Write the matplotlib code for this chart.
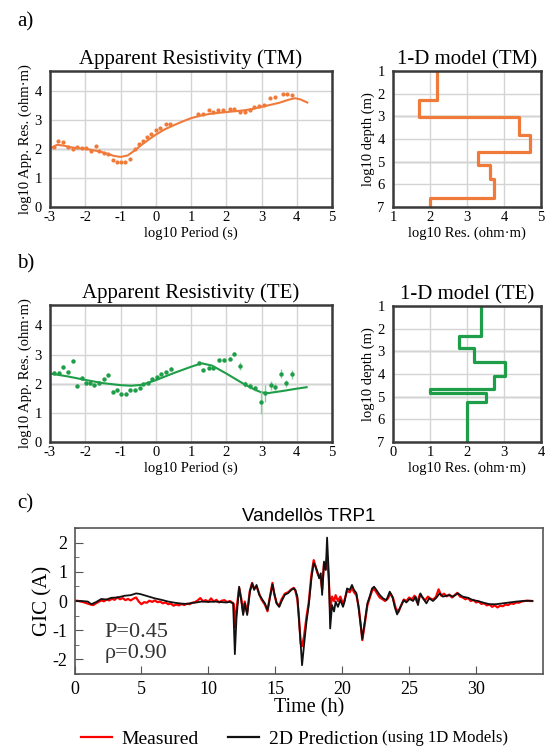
import numpy as np
import matplotlib
matplotlib.use("Agg")
import matplotlib.pyplot as plt
from matplotlib.lines import Line2D
from matplotlib.ticker import MultipleLocator

plt.rcParams['font.family'] = ['Liberation Serif', 'DejaVu Serif']
plt.rcParams['axes.unicode_minus'] = False

# ---- a) TM apparent resistivity ----
tm_period = [-2.9, -2.77, -2.62, -2.48, -2.36, -2.23, -2.08, -1.97, -1.85, -1.7, -1.6, -1.47,
             -1.35, -1.2, -1.1, -0.98, -0.86, -0.73, -0.6, -0.48, -0.37, -0.25, -0.13, 0.0,
             0.12, 0.28, 0.41, 1.2, 1.33, 1.5, 1.63, 1.77, 1.9, 2.1, 2.22, 2.38, 2.52, 2.66,
             2.8, 2.94, 3.07, 3.25, 3.38, 3.6, 3.73, 3.87]
tm_res = [2.08, 2.29, 2.25, 2.08, 2.0, 2.08, 2.05, 2.04, 1.93, 2.1, 1.94, 1.85,
          1.82, 1.62, 1.54, 1.54, 1.54, 1.66, 2.02, 2.17, 2.29, 2.42, 2.54, 2.67,
          2.74, 2.88, 2.88, 3.22, 3.22, 3.34, 3.3, 3.36, 3.34, 3.37, 3.37, 3.3, 3.28, 3.36,
          3.45, 3.5, 3.53, 3.76, 3.8, 3.9, 3.9, 3.87]
tm_fit_period = [-3, -2.8, -2.6, -2.4, -2.2, -2.0, -1.8, -1.6, -1.4, -1.2, -1.0, -0.8, -0.6,
                 -0.4, -0.2, 0, 0.25, 0.5, 0.75, 1.0, 1.25, 1.5, 1.75, 2.0, 2.25, 2.5, 2.75,
                 3.0, 3.25, 3.5, 3.75, 3.95, 4.1, 4.3]
tm_fit_res = [2.02, 2.15, 2.12, 2.06, 2.03, 2.01, 1.97, 1.92, 1.85, 1.77, 1.73, 1.78, 1.95,
              2.15, 2.33, 2.5, 2.68, 2.82, 2.95, 3.07, 3.15, 3.21, 3.25, 3.28, 3.31, 3.34, 3.39,
              3.46, 3.53, 3.6, 3.7, 3.76, 3.72, 3.61]

# 1-D TM model (layer boundaries in log10 depth, layer resistivity)
tm_depth = [1, 2.29, 3.02, 3.83, 4.56, 5.14, 5.77, 6.6, 7]
tm_rho = [2.19, 1.70, 4.41, 4.71, 3.30, 3.61, 3.72, 1.99]

# ---- b) TE apparent resistivity ----
te_period = [-2.88, -2.75, -2.63, -2.48, -2.36, -2.23, -2.1, -1.97, -1.86, -1.74, -1.61, -1.48,
             -1.36, -1.22, -1.1, -0.98, -0.84, -0.72, -0.58, -0.46, -0.35, -0.23, -0.1, 0.03,
             0.15, 0.3, 0.44, 1.22, 1.33, 1.5, 1.61, 1.8, 1.94, 2.1, 2.22, 2.38, 2.52, 2.66,
             2.81, 2.99, 3.11, 3.28, 3.39, 3.56, 3.69, 3.86]
te_res = [2.38, 2.38, 2.56, 2.41, 2.78, 1.92, 2.18, 2.01, 2.01, 1.95, 2.03, 2.15,
          2.3, 1.73, 1.78, 1.65, 1.64, 1.78, 1.78, 1.86, 1.99, 2.03, 2.15, 2.24,
          2.32, 2.41, 2.52, 2.72, 2.47, 2.55, 2.55, 2.81, 2.81, 2.86, 3.03, 2.61, 1.99, 1.93,
          1.84, 1.36, 1.67, 1.95, 1.9, 2.35, 2.01, 2.32]
te_err = [0.04, 0.04, 0.04, 0.04, 0.04, 0.04, 0.04, 0.04, 0.04, 0.04, 0.04, 0.04,
          0.04, 0.04, 0.04, 0.04, 0.04, 0.04, 0.04, 0.04, 0.04, 0.04, 0.04, 0.04,
          0.04, 0.04, 0.04, 0.05, 0.05, 0.05, 0.05, 0.05, 0.05, 0.05, 0.05, 0.15, 0.1, 0.1,
          0.08, 0.4, 0.3, 0.15, 0.12, 0.15, 0.12, 0.15]
te_fit_period = [-3, -2.5, -2, -1.5, -1, -0.7, -0.4, 0, 0.5, 1.0, 1.3, 1.6, 2.0, 2.5, 2.8,
                 3.0, 3.2, 3.6, 4.0, 4.28]
te_fit_res = [2.35, 2.25, 2.13, 2.02, 1.95, 1.93, 1.96, 2.12, 2.36, 2.58, 2.7, 2.62, 2.35,
              1.99, 1.8, 1.7, 1.68, 1.75, 1.83, 1.88]

te_depth = [1, 2.32, 2.87, 3.49, 4.07, 4.67, 4.85, 5.22, 7]
te_rho = [2.37, 1.78, 2.19, 3.04, 2.72, 0.99, 2.5, 2.0]

# ---- c) GIC at Vandellos TRP1 ----
meas_t = [0.0, 0.2, 0.4, 0.6, 0.8, 1.0, 1.2, 1.4, 1.6, 1.8, 2.0, 2.2, 2.4, 2.6, 2.8, 3.0,
          3.2, 3.4, 3.6, 3.8, 4.0, 4.2, 4.4, 4.6, 4.8, 5.0, 5.2, 5.4, 5.6, 5.8, 6.0, 6.2,
          6.4, 6.6, 6.8, 7.0, 7.2, 7.4, 7.6, 7.8, 8.0, 8.2, 8.4, 8.6, 8.8, 9.0, 9.2, 9.4,
          9.6, 9.8, 10.0, 10.2, 10.4, 10.6, 10.8, 11.0, 11.2, 11.4, 11.6, 11.8,
          11.9, 11.98, 12.1, 12.3, 12.47, 12.6, 12.72, 12.9, 13.1, 13.27, 13.42, 13.6, 13.8,
          13.97, 14.22, 14.42, 14.59, 14.79, 14.91, 15.09, 15.29, 15.46, 15.71, 15.96, 16.2,
          16.38, 16.5, 16.65, 16.75, 16.9, 17.0, 17.15, 17.33, 17.5, 17.7, 17.87, 18.0, 18.15,
          18.27, 18.4, 18.5, 18.64, 18.77, 18.87, 19.0, 19.1, 19.24, 19.39, 19.51, 19.68,
          19.86, 20.06, 20.18, 20.36, 20.56, 20.73, 20.88, 21.06, 21.23, 21.38, 21.5, 21.68,
          21.88, 22.05, 22.23, 22.38, 22.55, 22.8, 23.05,
          23.2, 23.4, 23.6, 23.8, 24.0, 24.2, 24.4, 24.6, 24.8, 25.0, 25.2, 25.4, 25.6, 25.8,
          26.0, 26.2, 26.4, 26.6, 26.8, 27.0, 27.2, 27.4, 27.6, 27.8, 28.0, 28.2, 28.4, 28.6,
          28.8, 29.0, 29.2, 29.4, 29.6, 29.8, 30.0, 30.2, 30.4, 30.6, 30.8, 31.0, 31.2, 31.4,
          31.6, 31.8, 32.0, 32.2, 32.4, 32.6, 32.8, 33.0, 33.2, 33.4, 33.6, 33.8, 34.0, 34.2]
meas_gic = [0.0, 0.01, -0.01, -0.03, -0.06, -0.09, -0.12, -0.14, -0.08, -0.03, 0.02, -0.01,
            0.05, 0.02, 0.08, 0.04, 0.13, 0.06, 0.10, 0.03, 0.07, 0.02, 0.08, 0.12, -0.02,
            -0.11, -0.04, -0.06, 0.01, -0.03, 0.02, -0.04, -0.02, -0.08, -0.05, -0.11, -0.09,
            -0.16, -0.12, -0.15, -0.10, -0.14, -0.09, -0.11, -0.06, -0.04, 0.02, 0.10, -0.01,
            0.03, -0.03, 0.09, -0.02, 0.04, -0.05, 0.01, 0.03, -0.04, 0.00, -0.06,
            -0.1, -0.9, -0.3, 0.45, 0.05, -0.4, -0.02, -0.4, 0.35, 0.62, 0.42, 0.5, 0.25,
            0.05, -0.12, -0.35, 0.12, 0.62, 0.25, -0.05, -0.18, 0.05, 0.25, 0.3, 0.4,
            0.45, 0.35, 0.05, -0.45, -1.45, -1.55, -1.2, -0.55, -0.05, 0.9, 1.4, 1.2, 0.95,
            0.85, 0.75, 0.4, 1.3, 1.1, 1.5, 0.7, -0.3, 0.15, 0.0, 0.2, 0.0,
            0.15, -0.1, 0.05, 0.35, 0.3, 0.45, 0.3, 0.2, -0.2, -0.8, -1.34, -0.8,
            -0.15, 0.1, 0.35, 0.42, 0.3, 0.12, 0.05,
            0.0, 0.08, 0.25, 0.1, -0.25, -0.38, -0.15, 0.05, 0.0, 0.12, 0.05, 0.18, -0.05, 0.22,
            0.12, 0.02, 0.15, 0.08, 0.05, 0.14, 0.4, 0.18, 0.25, 0.16, 0.22, 0.12, 0.2, 0.28,
            0.15, 0.12, 0.06, 0.1, 0.0, 0.04, -0.05, -0.02, -0.1, -0.08, -0.15, -0.12, -0.2, -0.15,
            -0.22, -0.16, -0.18, -0.12, -0.14, -0.08, -0.1, -0.05, -0.06, -0.02, 0.0, 0.01, 0.0, 0.0]

pred_t = [0, 0.5, 1.0, 1.25, 1.6, 2.0, 2.4, 2.75, 3.2, 3.75, 4.2, 4.6, 4.9, 5.2, 5.6, 6.0,
          6.5, 7.0, 7.5, 8.0, 8.4, 8.7, 9.1, 9.5, 10.0, 10.5, 11.0, 11.3, 11.6, 11.85,
          11.98, 12.1, 12.3, 12.47, 12.6, 12.72, 12.9, 13.1, 13.27, 13.42, 13.6, 13.8, 13.97,
          14.22, 14.42, 14.59, 14.79, 14.91, 15.09, 15.29, 15.46, 15.71, 15.96, 16.2, 16.38,
          16.5, 16.65, 16.75, 16.9, 17.0, 17.15, 17.33, 17.5, 17.7, 17.87, 18.0, 18.15, 18.27,
          18.4, 18.5, 18.64, 18.77, 18.87, 19.0, 19.1, 19.24, 19.39, 19.51, 19.68, 19.86,
          20.06, 20.18, 20.36, 20.56, 20.73, 20.88, 21.06, 21.23, 21.38, 21.5, 21.68, 21.88,
          22.05, 22.23, 22.38, 22.55, 22.8, 23.05, 23.3, 23.55, 23.75, 23.92, 24.1, 24.24,
          24.42, 24.59, 24.79, 25.04, 25.29, 25.49, 25.66, 25.84, 26.04, 26.29, 26.5, 26.78,
          27.03, 27.28, 27.52, 27.77, 28.0, 28.27, 28.64, 29.0, 29.4, 29.76, 30.13, 30.5,
          31.0, 31.5, 32.0, 32.5, 33.0, 33.5, 34.0, 34.2]
pred_gic = [0, 0, -0.02, -0.11, -0.04, 0.07, 0.05, 0.11, 0.12, 0.18, 0.2, 0.26, 0.24, 0.2,
            0.15, 0.09, 0.04, -0.02, -0.06, -0.09, -0.1, -0.07, -0.05, -0.02, -0.03, -0.02,
            -0.04, -0.05, -0.03, -0.08,
            -1.82, -0.6, 0.49, -0.02, -0.48, -0.08, -0.48, 0.31, 0.6, 0.38, 0.55, 0.21, 0.09,
            -0.08, -0.31, 0.09, 0.57, 0.31, -0.08, -0.2, -0.02, 0.21, 0.27, 0.38, 0.43,
            0.38, 0.15, -0.5, -1.5, -2.2, -1.5, -0.71, -0.14, 0.78, 1.3, 1.18, 1.0, 0.78,
            0.95, 0.21, 1.35, 1.06, 2.17, 0.89, -0.94, -0.14, -0.36, -0.02, -0.2, 0.03,
            -0.2, -0.02, 0.43, 0.38, 0.55, 0.38, 0.27, -0.25, -0.82, -1.3, -0.71, -0.08,
            0.15, 0.43, 0.49, 0.38, 0.21, 0.09, 0.03, 0.32, 0.15, -0.2, -0.46, -0.31,
            -0.14, 0.03, -0.05, 0.07, 0.0, 0.15, -0.14, 0.26, 0.09, -0.08, 0.09, 0.0,
            0.11, 0.26, 0.15, 0.18, 0.2, 0.15, 0.26, 0.15, 0.11, 0.03, 0.0, -0.05,
            -0.11, -0.11, -0.08, -0.05, -0.02, 0.0, 0.01, 0.0]

tm_color = '#F07A3A'
te_color = '#1E9E48'
W, H = 550, 751


def rect(left, top, right, bottom):
    return [left / W, 1 - bottom / H, (right - left) / W, (bottom - top) / H]


def style_mt(ax, dark_lines=()):
    ax.grid(True, color='#d4d4d4', linewidth=1.0)
    ax.set_axisbelow(True)
    for v in dark_lines:
        ax.axhline(v, color='#a8a8a8', linewidth=1.0, zorder=0.5)
    for s in ax.spines.values():
        s.set_color('#3a3a3a')
        s.set_linewidth(1.8)
    ax.tick_params(length=0, labelsize=10.5)
    ax.tick_params(axis='y', pad=6)
    ax.tick_params(axis='x', pad=3)


def steps(depth, rho):
    d = np.asarray(depth)
    return np.repeat(rho, 2), np.column_stack([d[:-1], d[1:]]).ravel()


fig = plt.figure(figsize=(W / 100, H / 100), dpi=100)

# a) left
ax1 = fig.add_axes(rect(50, 71, 332, 207))
ax1.plot(tm_fit_period, tm_fit_res, color=tm_color, lw=1.5)
ax1.plot(tm_period, tm_res, 'o', color=tm_color, ms=3.0, mec='none')
ax1.set_xlim(-3, 5)
ax1.set_ylim(0, 4.7)
ax1.set_xticks(range(-3, 6))
ax1.set_yticks(range(0, 5))
style_mt(ax1, dark_lines=[2])
ax1.set_title('Apparent Resistivity (TM)', fontsize=15, pad=5)
ax1.set_xlabel('log10 Period (s)', fontsize=10.5, labelpad=2)
ax1.set_ylabel('log10 App. Res. (ohm·m)', fontsize=10.5, labelpad=2)

# a) right
ax2 = fig.add_axes(rect(393, 71, 541, 207))
x, y = steps(tm_depth, tm_rho)
ax2.plot(x, y, color=tm_color, lw=2.3)
ax2.set_xlim(1, 5)
ax2.set_ylim(7, 1)
ax2.set_xticks(range(1, 6))
ax2.set_yticks(range(1, 8))
style_mt(ax2, dark_lines=[3, 5])
ax2.set_title('1-D model (TM)', fontsize=15, pad=5)
ax2.set_xlabel('log10 Res. (ohm·m)', fontsize=10.5, labelpad=2)
ax2.set_ylabel('log10 depth (m)', fontsize=10.5, labelpad=2)

# b) left
ax3 = fig.add_axes(rect(50, 305, 332, 442))
ax3.plot(te_fit_period, te_fit_res, color=te_color, lw=1.5)
ax3.errorbar(te_period, te_res, yerr=te_err, fmt='o', color=te_color, ms=3.2, mec='none',
             ecolor='#8fd0a0', elinewidth=1.0, capsize=0)
ax3.set_xlim(-3, 5)
ax3.set_ylim(0, 4.7)
ax3.set_xticks(range(-3, 6))
ax3.set_yticks(range(0, 5))
style_mt(ax3, dark_lines=[2])
ax3.set_title('Apparent Resistivity (TE)', fontsize=15, pad=5)
ax3.set_xlabel('log10 Period (s)', fontsize=10.5, labelpad=2)
ax3.set_ylabel('log10 App. Res. (ohm·m)', fontsize=10.5, labelpad=2)

# b) right
ax4 = fig.add_axes(rect(393, 306, 541, 442))
x, y = steps(te_depth, te_rho)
ax4.plot(x, y, color=te_color, lw=2.3)
ax4.set_xlim(0, 4)
ax4.set_ylim(7, 1)
ax4.set_xticks(range(0, 5))
ax4.set_yticks(range(1, 8))
style_mt(ax4, dark_lines=[3, 5])
ax4.set_title('1-D model (TE)', fontsize=15, pad=5)
ax4.set_xlabel('log10 Res. (ohm·m)', fontsize=10.5, labelpad=2)
ax4.set_ylabel('log10 depth (m)', fontsize=10.5, labelpad=2)

# c) GIC
ax5 = fig.add_axes(rect(74.5, 528, 543, 674))
ax5.plot(meas_t, meas_gic, color='#ff0000', lw=1.6)
ax5.plot(pred_t, pred_gic, color='#111111', lw=1.3)
ax5.set_xlim(0, 35)
ax5.set_ylim(-2.5, 2.5)
ax5.set_xticks(range(0, 35, 5))
ax5.set_yticks([-2, -1, 0, 1, 2])
ax5.yaxis.set_minor_locator(MultipleLocator(0.5))
ax5.tick_params(which='both', direction='in', labelsize=13, color='#555555')
ax5.tick_params(which='major', length=6, pad=5)
ax5.tick_params(which='minor', length=3)
for s in ax5.spines.values():
    s.set_color('#555555')
    s.set_linewidth(1.2)
ax5.set_title('Vandellòs TRP1', fontsize=13.5, family=['Liberation Sans', 'DejaVu Sans'], pad=5)
ax5.set_xlabel('Time (h)', fontsize=14.5, labelpad=0)
ax5.set_ylabel('GIC (A)', fontsize=15, labelpad=0)
ax5.text(0.064, 0.253, 'P=0.45', transform=ax5.transAxes, fontsize=16, color='#333333')
ax5.text(0.064, 0.11, 'ρ=0.90', transform=ax5.transAxes, fontsize=16, color='#333333')

# panel letters
fig.text(17 / W, 1 - 12 / H, 'a)', fontsize=15, va='top')
fig.text(17 / W, 1 - 254 / H, 'b)', fontsize=15, va='top')
fig.text(17 / W, 1 - 494 / H, 'c)', fontsize=15, va='top')

# legend
handles = [Line2D([], [], color='#ff0000', lw=1.6), Line2D([], [], color='#111111', lw=1.6)]
leg = fig.legend(handles, ['Measured', '2D Prediction'], loc='center left',
                 bbox_to_anchor=(81 / W, 1 - 739 / H), ncol=2, frameon=False, fontsize=14,
                 handlelength=1.6, handletextpad=0.5, columnspacing=1.5, borderpad=0,
                 borderaxespad=0)
fig.canvas.draw()
bb = leg.get_texts()[1].get_window_extent()
inv = fig.transFigure.inverted()
x0, y0 = inv.transform((bb.x1 + 4, bb.y0))
fig.text(x0, y0 + 2 / H, '(using 1D Models)', fontsize=12, va='bottom')

fig.savefig('out.png', dpi=100)
